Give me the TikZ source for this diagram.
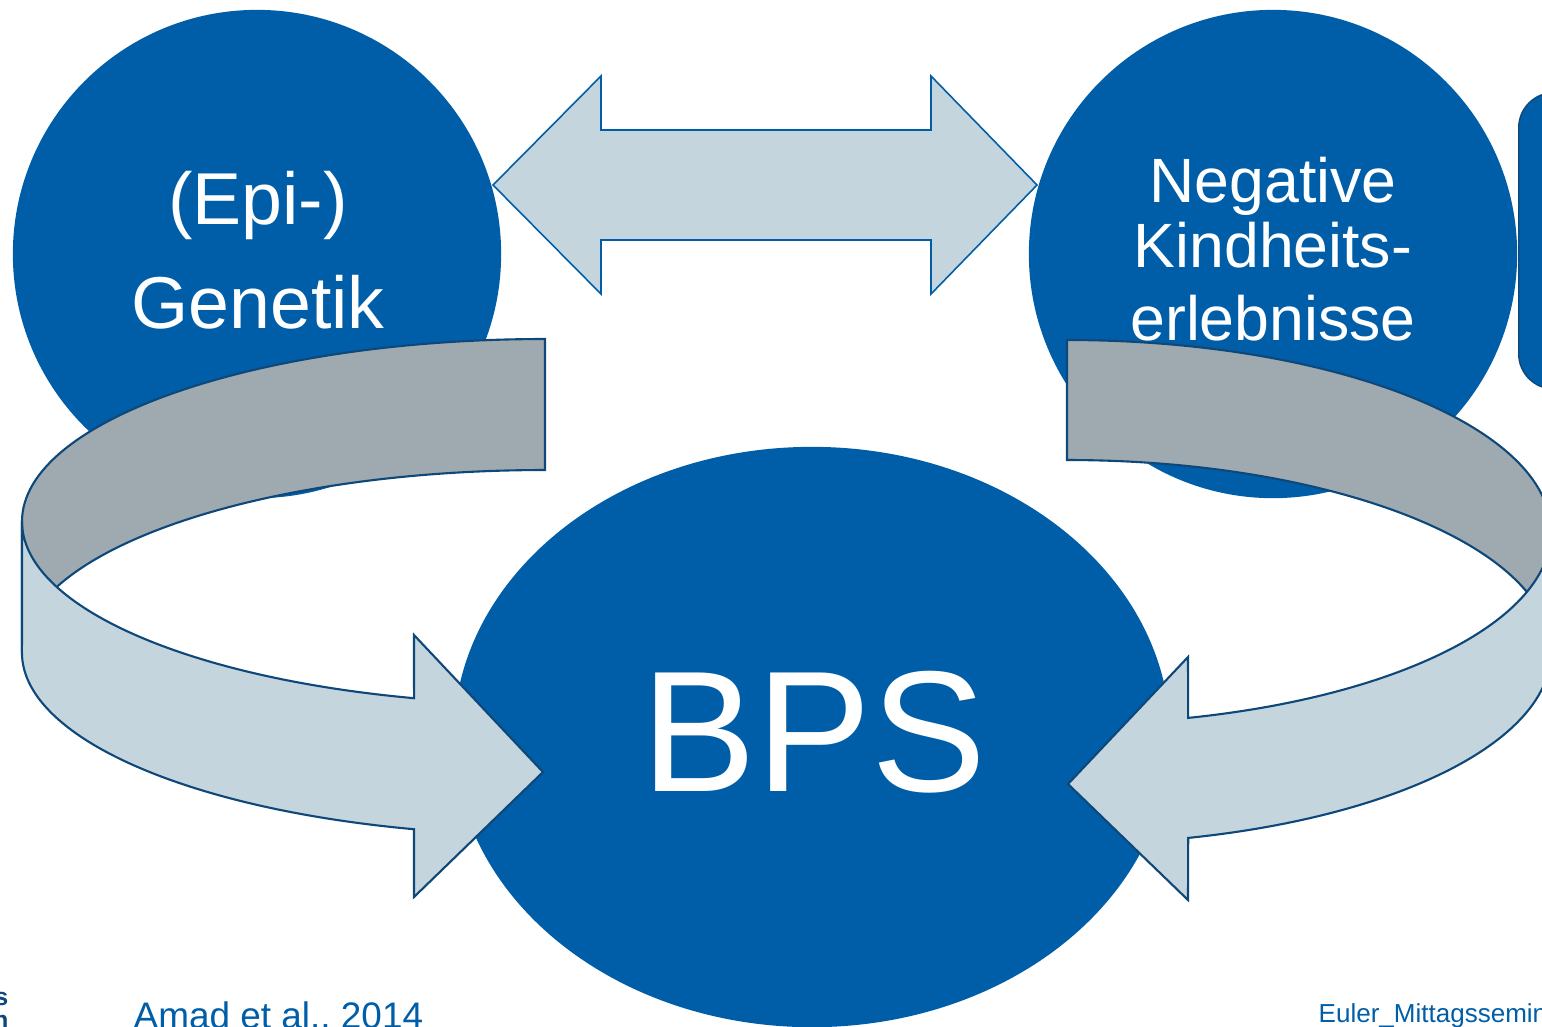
\documentclass[tikz,border=0pt]{standalone}
\usepackage{fontspec}
\setmainfont{Liberation Sans}
\usetikzlibrary{shapes.geometric, positioning}
\definecolor{bpsblue}{RGB}{0,94,168}
\definecolor{bpsnavy}{RGB}{14,72,122}
\definecolor{ribbonlight}{RGB}{197,213,221}
\definecolor{ribbondark}{RGB}{158,170,176}

\begin{document}
\begin{tikzpicture}[
		x=0.01cm, y=0.01cm,
		factor/.style = {circle, fill=bpsblue, inner sep=0pt, minimum size=4.88cm},
		core/.style = {ellipse, fill=bpsblue, inner sep=0pt, minimum width=7.16cm, minimum height=5.8cm},
		nextbox/.style = {rectangle, fill=bpsblue, draw=bpsnavy, line width=0.4pt, rounded corners=0.35cm, inner sep=0pt},
		bigtext/.style = {text=white, inner sep=0pt, anchor=base, font=\fontsize{20.9}{25}\selectfont},
		midtext/.style = {bigtext, font=\fontsize{17.8}{21}\selectfont},
		reftext/.style = {text=bpsblue, inner sep=0pt, anchor=base west},
		logotext/.style = {text=bpsnavy, inner sep=0pt, anchor=base east, font=\fontsize{7}{8}\selectfont\bfseries},
		bothway/.style = {fill=ribbonlight, draw=bpsblue, line width=0.45pt, line join=miter},
		bandback/.style = {fill=ribbondark, draw=bpsnavy, line width=0.6pt},
		bandfront/.style = {fill=ribbonlight, draw=bpsnavy, line width=0.6pt}
		]
		\useasboundingbox (0,0) rectangle (1542,-1026);
		\clip (0,0) rectangle (1542,-1026);
		
		\node[factor] (genetik) at (257,-254) {};
		\node[factor] (kindheit) at (1273,-254) {};
		\node[nextbox, minimum width=2cm, minimum height=2.96cm, anchor=north west] (next) at (1518,-92) {};
		\node[core] (bps) at (812,-737) {};
		
		\node[bigtext] (epi) at (258,-224) {(Epi-)};
		\node[bigtext] (gen) at ([yshift=-1.04cm]epi.base) {Genetik};
		\node[midtext] (neg) at (1273,-202) {Negative};
		\node[midtext] (kind) at ([yshift=-0.65cm]neg.base) {Kindheits-};
		\node[midtext] (erl) at ([yshift=-0.73cm]kind.base) {erlebnisse};
		\node[bigtext, font=\fontsize{49}{54}\selectfont] (bpstext) at (814,-791) {BPS};
		
		\node[reftext, font=\fontsize{10.5}{12}\selectfont] (cite) at (133,-1028) {Amad et al., 2014};
		\node[reftext, font=\fontsize{7.4}{9}\selectfont] (footer) at (1318,-1022) {Euler\_Mittagsseminar};
		\node[logotext] (logos) at (9,-1005) {s};
		\node[logotext] (logoh) at (9,-1028) {h};
		
		% double arrow between the two factors
		\draw[bothway] (493,-185) -- (601,-76) -- (601,-130) -- (931,-130) -- (931,-76) -- (1037,-185)
		-- (931,-294) -- (931,-240) -- (601,-240) -- (601,-294) -- cycle;
		
		% left ribbon
		\draw[bandback] (545,-339) arc[start angle=90, end angle=180, x radius=523, y radius=182.5]
		-- ++(0,-131) arc[start angle=180, end angle=90, x radius=523, y radius=182.5] -- cycle;
		\draw[bandfront] (22,-521.5) arc[start angle=180, end angle=255.5, x radius=523, y radius=182.5]
		-- (414,-635) -- (543,-772) -- (414,-897) -- (414,-829.2)
		arc[start angle=255.5, end angle=180, x radius=523, y radius=182.5] -- cycle;
		
		% right ribbon
		\draw[bandback] (1067,-340) arc[start angle=90, end angle=0, x radius=484, y radius=192]
		-- ++(0,-120) arc[start angle=0, end angle=90, x radius=484, y radius=192] -- cycle;
		\draw[bandfront] (1551,-532) arc[start angle=360, end angle=284.5, x radius=484, y radius=192]
		-- (1188,-657) -- (1068,-784) -- (1188,-900) -- (1188.2,-837.9)
		arc[start angle=284.5, end angle=360, x radius=484, y radius=192] -- cycle;
\end{tikzpicture}
\end{document}
